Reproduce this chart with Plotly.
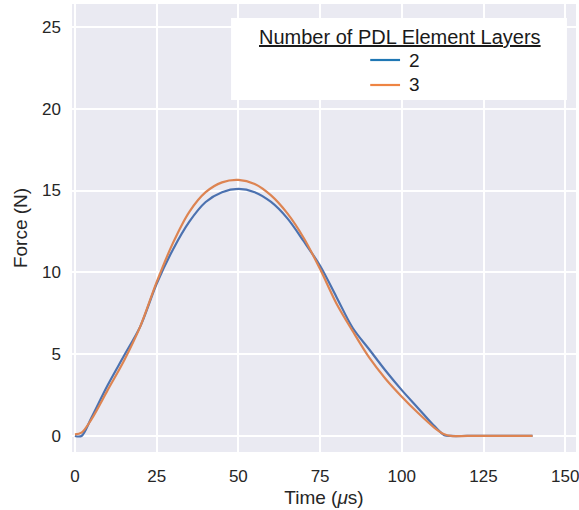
import plotly.graph_objects as go

time_us = [0, 2, 5, 10, 15, 20, 25, 30, 35, 40, 45, 50, 55, 60, 65, 70, 75, 80, 85, 90,
           95, 100, 105, 110, 113, 115, 120, 125, 130, 135, 140]
force_2 = [0, 0, 1.1, 3.1, 4.9, 6.7, 9.3, 11.4, 13.1, 14.3, 14.9, 15.1, 14.9, 14.3, 13.3,
           11.9, 10.4, 8.5, 6.6, 5.3, 4.0, 2.8, 1.7, 0.6, 0.05, 0, 0, 0, 0, 0, 0]
force_3 = [0.1, 0.2, 1.0, 2.8, 4.6, 6.7, 9.4, 11.8, 13.7, 14.9, 15.5, 15.65, 15.4, 14.7,
           13.6, 12.1, 10.2, 8.1, 6.4, 4.8, 3.5, 2.4, 1.4, 0.5, 0.1, 0, 0, 0, 0, 0, 0]
series_names = ["2", "3"]
x_ticks = [0, 25, 50, 75, 100, 125, 150]
y_ticks = [0, 5, 10, 15, 20, 25]

line_colors = ["#4c72b0", "#dd8452"]
legend_colors = ["#1f77b4", "#ee8443"]

fig = go.Figure()
for name, ys, c in zip(series_names, [force_2, force_3], line_colors):
    fig.add_trace(go.Scatter(x=time_us, y=ys, mode="lines", name=name,
                             line=dict(color=c, width=2.2, shape="spline", smoothing=0.9),
                             showlegend=False))

font = "Liberation Sans, Arial, sans-serif"
fig.update_layout(
    width=579, height=510,
    margin=dict(l=72, r=0, t=4, b=58),
    paper_bgcolor="white", plot_bgcolor="#eaeaf2",
    font=dict(family=font, size=17, color="#262626"),
    xaxis=dict(range=[-0.9, 153.3], tickvals=x_ticks, showgrid=True, gridcolor="white",
               gridwidth=1.5, zeroline=False, showline=False, ticks="",
               ticklabelstandoff=12, ticklabeloverflow="allow",
               title=dict(text="Time (<i>μ</i>s)", font=dict(size=19), standoff=5),
               tickfont=dict(size=17)),
    yaxis=dict(range=[-0.98, 26.4], tickvals=y_ticks, showgrid=True, gridcolor="white",
               gridwidth=1.5, zeroline=False, showline=False, ticks="",
               ticklabelstandoff=10,
               title=dict(text="Force (N)", font=dict(size=19), standoff=9),
               tickfont=dict(size=17)),
)

# legend box drawn manually (centered title and entries)
fig.add_shape(type="rect", xref="paper", yref="paper", x0=0.3156, x1=0.982, y0=0.7857, y1=0.9688,
              fillcolor="white", line=dict(width=0), layer="above")
fig.add_annotation(xref="paper", yref="paper", x=0.651, y=0.926, text="<u>Number of PDL Element Layers</u>",
                   showarrow=False, font=dict(size=20, color="#1a1a1a"), xanchor="center", yanchor="middle")
for i, (name, c) in enumerate(zip(series_names, legend_colors)):
    yp = (452 - (60 + 25 * i)) / 448
    fig.add_shape(type="line", xref="paper", yref="paper", x0=(372 - 72) / 507, x1=(402 - 72) / 507,
                  y0=yp, y1=yp, line=dict(color=c, width=2.2), layer="above")
    fig.add_annotation(xref="paper", yref="paper", x=(409 - 72) / 507, y=yp, text=name,
                       showarrow=False, font=dict(size=19, color="#1a1a1a"), xanchor="left", yanchor="middle")

fig.write_html("out.html", config={"displayModeBar": False},
               post_script="document.body.style.margin='0';")
